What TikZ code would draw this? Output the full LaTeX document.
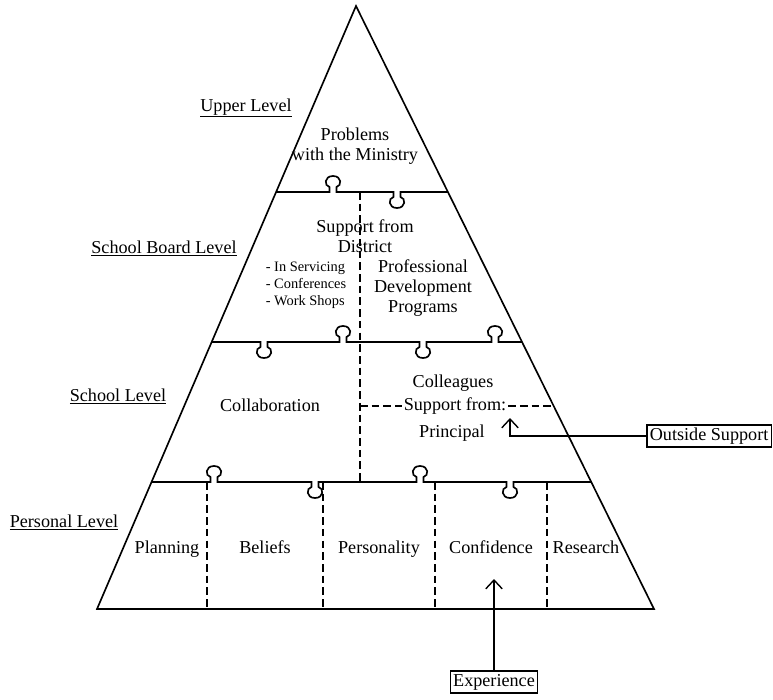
\documentclass[tikz,border=0pt]{standalone}
\usepackage{fontspec}
\setmainfont{Liberation Serif}
\usetikzlibrary{arrows.meta}

\tikzset{
  txt/.style={font=\fontsize{15.5}{17}\selectfont, align=center, inner sep=1pt},
  lvl/.style={txt},
  cell/.style={txt, anchor=base},
  box/.style={txt, draw, line width=1.2pt, inner sep=2.5pt},
  dashline/.style={line width=1.4pt, dash pattern=on 6.5pt off 3.5pt},
  caret/.style={line width=1.2pt, -{Straight Barb[length=7.5pt,width=14pt]}},
  % puzzle knob on a level line: x, y, direction (-1 up, 1 down)
  knob/.style n args={3}{insert path={
    -- ({#1-3.5},#2) -- ({#1-3.5},{#2+5*(#3)})
    .. controls ({#1-9},{#2+6*(#3)}) and ({#1-9},{#2+16*(#3)}) .. (#1,{#2+16*(#3)})
    .. controls ({#1+9},{#2+16*(#3)}) and ({#1+9},{#2+6*(#3)}) .. ({#1+3.5},{#2+5*(#3)})
    -- ({#1+3.5},#2)}}
}

\begin{document}
\begin{tikzpicture}[x=0.03cm, y=-0.03cm, line width=1.4pt]
  \useasboundingbox (0,0) rectangle (773,700);

  % pyramid
  \coordinate (apex) at (356,6);
  \coordinate (bl) at (97,609);
  \coordinate (br) at (654,609);
  \draw[line join=miter] (bl) -- (apex) -- (br) -- cycle;

  % level lines with knobs
  \draw (276,192) [knob={333}{192}{-1}] [knob={397}{192}{1}] -- (448,192);
  \draw (212,342) [knob={264}{342}{1}] [knob={343}{342}{-1}] [knob={423}{342}{1}] [knob={495}{342}{-1}] -- (522,342);
  \draw (152,482) [knob={214}{482}{-1}] [knob={315}{482}{1}] [knob={420}{482}{-1}] [knob={510}{482}{1}] -- (591,482);

  % dashed splits
  \draw[dashline] (360,192) -- (360,482);
  \foreach \xx in {207,323,435,547}
    \draw[dashline] (\xx,482) -- (\xx,609);

  % level names
  \node[lvl] (upper) at (246,108) {\underline{Upper Level}};
  \node[lvl] (board) at (164,248) {\underline{School Board Level}};
  \node[lvl] (school) at (118,396) {\underline{School Level}};
  \node[lvl] (personal) at (64,522) {\underline{Personal Level}};

  % upper level
  \node[txt] (ministry) at (355,146) {Problems\\with the Ministry};

  % school board level
  \node[txt] (district) at (365,236) {Support from\\District};
  \node[font=\fontsize{12.3}{14.5}\selectfont, align=left, anchor=west, inner sep=0pt]
    (bullets) at (265,285) {- In Servicing\\- Conferences\\- Work Shops};
  \node[txt] (profdev) at (423,288) {Professional\\Development\\Programs};

  % school level
  \node[txt] (collab) at (270,405) {Collaboration};
  \node[txt] (colleag) at (453,383) {Colleagues};
  \node[txt] (suppfrom) at (455,406) {Support from:};
  \node[txt] (principal) at (452,433) {Principal};
  \draw[dashline] (360,406) -- (suppfrom.west);
  \draw[dashline] (suppfrom.east) -- (555,406);

  % personal level
  \node[cell] (planning) at (167,553) {Planning};
  \node[cell] (beliefs) at (265,553) {Beliefs};
  \node[cell] (personality) at (379,553) {Personality};
  \node[cell] (confidence) at (491,553) {Confidence};
  \node[cell] (research) at (586,553) {Research};

  % outside influences
  \node[box, anchor=east] (outside) at (772,436) {Outside Support};
  \node[box] (experience) at (494,682) {Experience};
  \coordinate (tipout) at (510,418);
  \coordinate (tipexp) at (494,579);
  \draw[caret] (outside.west) -| (tipout);
  \draw[caret] (experience.north) -- (tipexp);
\end{tikzpicture}
\end{document}
